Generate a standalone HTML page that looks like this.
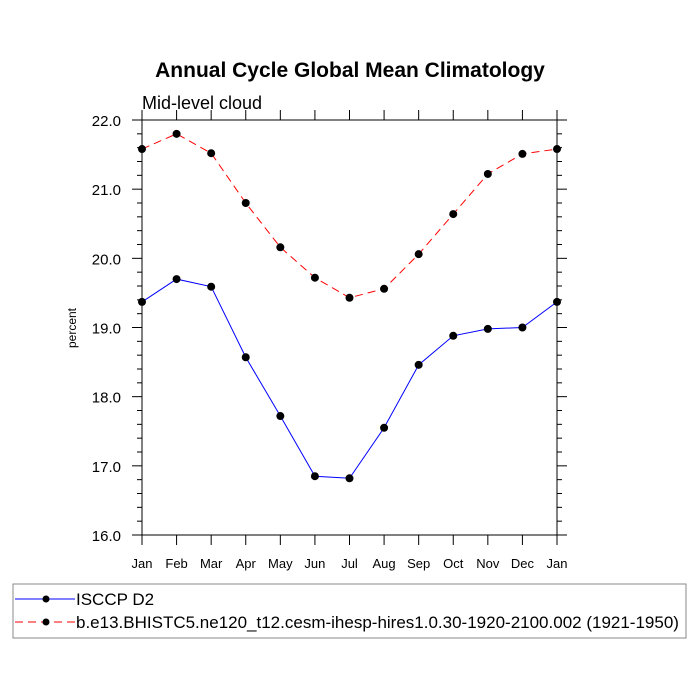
<!DOCTYPE html>
<html><head><meta charset="utf-8"><style>body{margin:0;background:#fff}svg{display:block;font-family:"Liberation Sans",sans-serif}</style></head>
<body>
<svg id="chart" width="700" height="700">
<text x="350" y="77" text-anchor="middle" font-size="21" font-weight="bold">Annual Cycle Global Mean Climatology</text>
<text x="142" y="109" font-size="18">Mid-level cloud</text>
<text transform="translate(76,328) rotate(-90)" text-anchor="middle" font-size="12">percent</text>
<g id="axes"></g>
<g id="series"></g>
<rect x="13" y="584" width="673" height="54" fill="none" stroke="#888" stroke-width="1"/>
<g><line x1="15" y1="599" x2="75" y2="599" stroke="blue"/><circle cx="46" cy="599" r="3.5"/><text x="76" y="605" font-size="17">ISCCP D2</text></g>
<g><line x1="15" y1="622" x2="75" y2="622" stroke="red" stroke-dasharray="8,5"/><circle cx="46" cy="622" r="3.5"/><text x="76" y="628" font-size="17">b.e13.BHISTC5.ne120_t12.cesm-ihesp-hires1.0.30-1920-2100.002 (1921-1950)</text></g>
</svg>
<script>
const months=["Jan","Feb","Mar","Apr","May","Jun","Jul","Aug","Sep","Oct","Nov","Dec","Jan"];
const isccp=[19.37,19.70,19.59,18.57,17.72,16.85,16.82,17.55,18.46,18.88,18.98,19.0,19.37];
const model=[21.58,21.80,21.52,20.80,20.16,19.72,19.43,19.56,20.06,20.64,21.22,21.51,21.58];
const yTicks=[16,17,18,19,20,21,22];
const NS="http://www.w3.org/2000/svg";
const L=142,R=557,T=120,B=535,yMin=16,yMax=22;
const xs=i=>L+i*(R-L)/(months.length-1);
const ys=v=>B-(v-yMin)/(yMax-yMin)*(B-T);
function mk(t,a,p){const e=document.createElementNS(NS,t);for(const k in a)e.setAttribute(k,a[k]);p.appendChild(e);return e;}
const ax=document.getElementById('axes');
const frame=mk('rect',{x:L,y:T,width:R-L,height:B-T,fill:'none',stroke:'#000','stroke-width':1},ax);


for(let v=yMin;v<=yMax+1e-9;v+=0.2){
  const y=ys(v);const major=Math.abs(v-Math.round(v))<1e-6;const len=major?10:5;
  mk('line',{x1:L-len,y1:y,x2:L,y2:y,stroke:'#000'},ax);
  mk('line',{x1:R,y1:y,x2:R+len,y2:y,stroke:'#000'},ax);
}
yTicks.forEach(v=>{const t=mk('text',{x:121,y:ys(v)+6,'text-anchor':'end','font-size':15},ax);t.textContent=v.toFixed(1);

});
months.forEach((m,i)=>{const x=xs(i);
  mk('line',{x1:x,y1:B,x2:x,y2:B+10,stroke:'#000'},ax);
  mk('line',{x1:x,y1:T-10,x2:x,y2:T,stroke:'#000'},ax);
  const t=mk('text',{x:x,y:B+33,'text-anchor':'middle','font-size':13},ax);t.textContent=m;
  
  
});
const sg=document.getElementById('series');
function draw(vals,color,dash,name){
  const g=mk('g',{},sg);
  
  
  const a={points:vals.map((v,i)=>xs(i)+','+ys(v)).join(' '),fill:'none',stroke:color,'stroke-width':1};
  if(dash)a['stroke-dasharray']=dash;
  mk('polyline',a,g);
  vals.forEach((v,i)=>{const c=mk('circle',{cx:xs(i),cy:ys(v),r:4},g);
    
    });
}
draw(model,'red','8,5','model-series');
draw(isccp,'blue',null,'isccp-series');
</script>
</body></html>
